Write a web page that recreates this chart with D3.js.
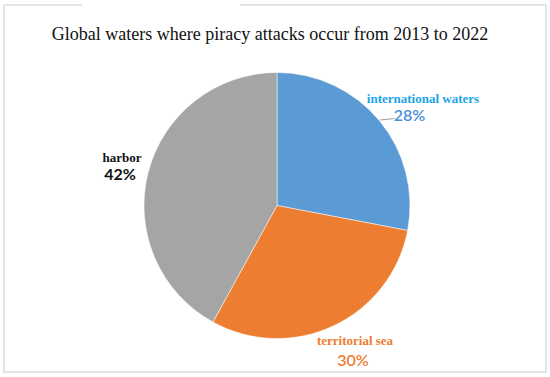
<!DOCTYPE html>
<html>
<head>
<meta charset="utf-8">
<script src="https://cdn.jsdelivr.net/npm/d3@7/dist/d3.min.js"></script>
<style>
  html, body { margin: 0; padding: 0; background: #fff; }
  svg { display: block; }
</style>
</head>
<body>
<svg id="chart" width="550" height="377"></svg>
<script>
const categories = ["international waters", "territorial sea", "harbor"];
const values = [28, 30, 42];
const percentLabels = ["28%", "30%", "42%"];
const colors = ["#5b9bd5", "#ed7d31", "#a5a5a5"];
const nameColors = ["#1ea3e6", "#ed7d31", "#111111"];
const pctColors = ["#4a8fd8", "#ed7d31", "#111111"];
const title = "Global waters where piracy attacks occur from 2013 to 2022";

const svg = d3.select("#chart");

// frame
const frame = svg.append("g").attr("stroke", "#dcdcdc").attr("stroke-width", 1.5).attr("fill", "none");
frame.append("path").attr("d", "M4,5 L82,5");
frame.append("path").attr("d", "M240,5 L546,5 L546,372 L4,372 L4,5");

svg.append("text")
  .attr("x", 270).attr("y", 40)
  .attr("text-anchor", "middle")
  .attr("font-family", "'Liberation Serif', 'Times New Roman', serif")
  .attr("font-size", 18)
  .attr("fill", "#111")
  .text(title);

const cx = 277, cy = 205.5, r = 133;
const data = categories.map((c, i) => ({ name: c, value: values[i], pct: percentLabels[i], color: colors[i], nc: nameColors[i], pc: pctColors[i] }));

const pie = d3.pie().value(d => d.value).sort(null);
const arc = d3.arc().innerRadius(0).outerRadius(r);
const arcs = pie(data);

const g = svg.append("g").attr("transform", `translate(${cx},${cy})`);
g.selectAll("path.slice").data(arcs).enter().append("path")
  .attr("class", "slice")
  .attr("d", arc)
  .attr("fill", d => d.data.color)
  .attr("stroke", "#fff")
  .attr("stroke-width", 0.5);

const labelPos = [
  { nx: 146, ny: -103, px: 132.5, py: -85, leader: true },
  { nx: 78, ny: 139.5, px: 76, py: 160, leader: false },
  { nx: -155, ny: -43.5, px: -157, py: -26, leader: false }
];

arcs.forEach((a, i) => {
  const lp = labelPos[i];
  if (lp.leader) {
    const ey = -85.5;
    const ex = Math.sqrt(r * r - ey * ey);
    g.append("path")
      .attr("d", `M${ex + 1},${ey} L${lp.px - 15},${ey - 1.5}`)
      .attr("stroke", "#a0a0a0").attr("stroke-width", 1.2).attr("fill", "none");
  }
  g.append("text")
    .attr("x", lp.nx).attr("y", lp.ny)
    .attr("text-anchor", "middle")
    .attr("font-family", "'Liberation Serif', 'Times New Roman', serif")
    .attr("font-weight", "bold")
    .attr("font-size", 13)
    .attr("fill", a.data.nc)
    .text(a.data.name);
  g.append("text")
    .attr("x", lp.px).attr("y", lp.py)
    .attr("text-anchor", "middle")
    .attr("font-family", "Lato, 'Open Sans', sans-serif")
    .attr("font-weight", i === 2 ? "bold" : "600")
    .attr("font-size", 16)
    .attr("fill", a.data.pc)
    .text(a.data.pct);
});
</script>
</body>
</html>
